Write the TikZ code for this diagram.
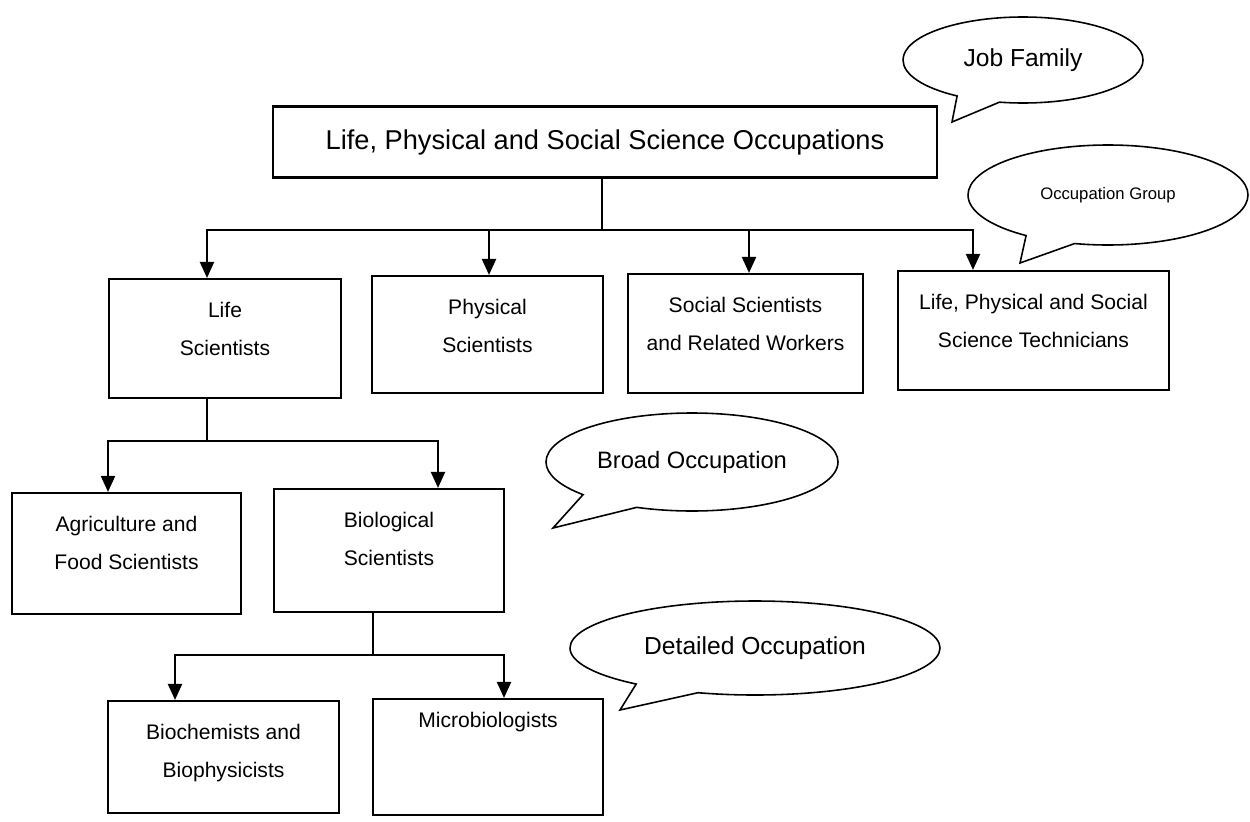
\documentclass[tikz,border=0pt]{standalone}
\usepackage{fontspec}
\setmainfont{Liberation Sans}
\usetikzlibrary{positioning,arrows.meta,shapes.callouts}
\tikzset{
  >={Triangle[length=3.2mm,width=2.8mm]},
  occbox/.style={draw=black,line width=1.2pt,inner sep=0pt},
  occtxt/.style={align=center,inner sep=0pt,font=\fontsize{12}{22}\selectfont},
  flow/.style={->,line width=1.2pt},
  bubble/.style={ellipse callout,draw=black,line width=0.9pt,inner sep=0pt,
    callout pointer arc=22},
}
\begin{document}
\begin{tikzpicture}
  \useasboundingbox (0,0) rectangle (25,-16.42);
  % job family
  \node[occbox,minimum width=13.28cm,minimum height=1.42cm,
    font=\fontsize{15.5}{18}\selectfont] (fam) at (12.1,-2.84)
    {Life, Physical and Social Science Occupations};
  % occupation groups
  \node[occbox,minimum width=4.64cm,minimum height=2.38cm] (life) at (4.5,-6.77) {};
  \node[occbox,minimum width=4.62cm,minimum height=2.34cm] (phys) at (9.75,-6.69) {};
  \node[occbox,minimum width=4.70cm,minimum height=2.38cm] (social) at (14.91,-6.67) {};
  \node[occbox,minimum width=5.42cm,minimum height=2.38cm] (tech) at (20.67,-6.61) {};
  \node[occtxt,below=4.7mm of life.north] (life-t) {Life\\Scientists};
  \node[occtxt,below=4.7mm of phys.north] (phys-t) {Physical\\Scientists};
  \node[occtxt,below=4.7mm of social.north] (social-t) {Social Scientists\\and Related Workers};
  \node[occtxt,below=4.7mm of tech.north] (tech-t) {Life, Physical and Social\\Science Technicians};
  % broad occupations
  \node[occbox,minimum width=4.58cm,minimum height=2.42cm] (agri) at (2.53,-11.07) {};
  \node[occbox,minimum width=4.60cm,minimum height=2.46cm] (bio) at (7.78,-11.01) {};
  \node[occtxt,below=4.7mm of agri.north] (agri-t) {Agriculture and\\Food Scientists};
  \node[occtxt,below=4.7mm of bio.north] (bio-t) {Biological\\Scientists};
  % detailed occupations
  \node[occbox,minimum width=4.62cm,minimum height=2.24cm] (biochem) at (4.47,-15.14) {};
  \node[occbox,minimum width=4.60cm,minimum height=2.32cm] (micro) at (9.76,-15.14) {};
  \node[occtxt,below=4.7mm of biochem.north] (biochem-t) {Biochemists and\\Biophysicists};
  \node[occtxt,below=2.7mm of micro.north] (micro-t) {Microbiologists};

  \foreach \kid/\dx in {life/-3.6mm,phys/0.3mm,social/0.7mm,tech/-12.1mm}
    \draw[flow] ([xshift=-0.6mm]fam.south) -- ++(0,-1.02) -| ([xshift=\dx]\kid.north);
  \foreach \kid/\dx in {agri/-3.7mm,bio/9.8mm}
    \draw[flow] ([xshift=-3.6mm]life.south) -- ++(0,-0.84) -| ([xshift=\dx]\kid.north);
  \foreach \kid/\dx in {biochem/-9.7mm,micro/3.2mm}
    \draw[flow] ([xshift=-3.2mm]bio.south) -- ++(0,-0.84) -| ([xshift=\dx]\kid.north);

  % level callouts
  \node[bubble,minimum width=4.8cm,minimum height=1.72cm,font=\fontsize{14}{16}\selectfont,
    callout absolute pointer={(19.04,-2.44)}] (famcall) at (20.46,-1.2) {Job Family};
  \node[bubble,minimum width=5.6cm,minimum height=2.0cm,font=\fontsize{9.5}{11}\selectfont,
    callout absolute pointer={(20.4,-5.26)}] (grpcall) at (22.16,-3.9) {Occupation Group};
  \node[bubble,minimum width=5.84cm,minimum height=1.96cm,font=\fontsize{13.5}{16}\selectfont,
    callout pointer arc=26,callout absolute pointer={(11.06,-10.56)}] (broadcall) at (13.84,-9.24) {Broad Occupation};
  \node[bubble,minimum width=7.4cm,minimum height=1.88cm,font=\fontsize{14}{16}\selectfont,
    callout absolute pointer={(12.4,-14.2)}] (detcall) at (15.1,-12.96) {Detailed Occupation};
\end{tikzpicture}
\end{document}
